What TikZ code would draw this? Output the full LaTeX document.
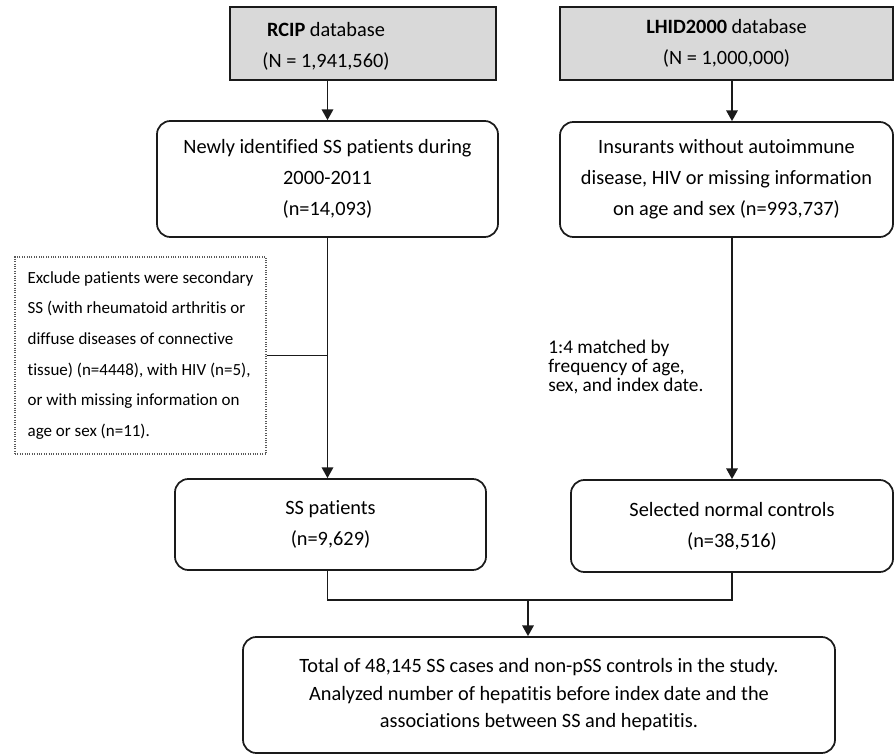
\documentclass[tikz,border=0pt]{standalone}
\usepackage{fontspec}
\setmainfont{Carlito}[Ligatures=NoCommon]
\usetikzlibrary{arrows.meta}
\definecolor{dbgray}{HTML}{D9D9D9}
\definecolor{linecol}{HTML}{1A1A1A}
\begin{document}
\begin{tikzpicture}[x=0.75pt,y=-0.75pt,
  mainfont/.style={font=\fontsize{15.25}{23.25}\selectfont},
  box/.style={draw=linecol, line width=1.3pt, align=center, inner sep=0pt, mainfont},
  dbbox/.style={box, fill=dbgray},
  rbox/.style={box, fill=white, rounded corners=10pt},
  exbox/.style={draw=black!65, densely dotted, line width=0.8pt, align=left,
    inner sep=0pt, font=\fontsize{12.75}{23}\selectfont},
  txt/.style={align=center, inner sep=0pt, mainfont},
  lbl/.style={align=left, inner sep=0pt, font=\fontsize{14.5}{14.5}\selectfont},
  conn/.style={line width=1.4pt, draw=linecol},
  arr/.style={conn, -{Triangle[length=8pt,width=8.5pt]}},
]
\useasboundingbox (0,0) rectangle (895,755);

\node[dbbox, minimum width=199.5pt, minimum height=54.75pt] (rcip) at (363,43.5) {};
\node[txt] (rciptxt) at (326,46) {\textbf{RCIP} database\\(N = 1,941,560)};
\node[dbbox, minimum width=249.75pt, minimum height=54.75pt] (lhid) at (726.5,43.5)
  {\textbf{LHID2000} database\\(N = 1,000,000)};

\node[rbox, minimum width=255.75pt, minimum height=87pt] (newly) at (327.5,179)
  {Newly identified SS patients during\\2000-2011\\(n=14,093)};
\node[rbox, minimum width=249.75pt, minimum height=86.25pt] (insur) at (726.5,179.5)
  {Insurants without autoimmune\\disease, HIV or missing information\\on age and sex (n=993,737)};

\node[exbox, minimum width=188.25pt, minimum height=147.75pt] (excl) at (140.5,355.5)
  {Exclude patients were secondary\\SS (with rheumatoid arthritis or\\diffuse diseases of connective\\tissue) (n=4448), with HIV (n=5),\\or with missing information on\\age or sex (n=11).};

\node[lbl, anchor=west] (match) at (548,367)
  {1:4 matched by\\frequency of age,\\sex, and index date.};

\node[rbox, minimum width=233.25pt, minimum height=68.25pt] (ss) at (330.5,524.5)
  {SS patients\\(n=9,629)};
\node[rbox, minimum width=241.5pt, minimum height=69pt] (ctrl) at (732,526)
  {Selected normal controls\\(n=38,516)};

\node[rbox, minimum width=444pt, minimum height=87pt,
  font=\fontsize{15.25}{20.6}\selectfont] (total) at (539,695)
  {Total of 48,145 SS cases and non-pSS controls in the study.\\Analyzed number of hepatitis before index date and the\\associations between SS and hepatitis.};

\coordinate (jl) at (newly.south |- 0,600);
\coordinate (jr) at (ctrl.south |- 0,600);
\coordinate (jm) at (528,600);

\draw[arr] (newly.north |- rcip.south) -- (newly.north);
\draw[arr] (ctrl.north |- lhid.south) -- (ctrl.north |- insur.north);
\draw[arr] (newly.south) -- (newly.south |- ss.north);
\draw[conn] (excl.east) -- (excl.east -| newly.south);
\draw[arr] (ctrl.north |- insur.south) -- (ctrl.north);
\draw[conn] (newly.south |- ss.south) -- (jl) -- (jr) -- (ctrl.south);
\draw[arr] (jm) -- (jm |- total.north);
\end{tikzpicture}
\end{document}
